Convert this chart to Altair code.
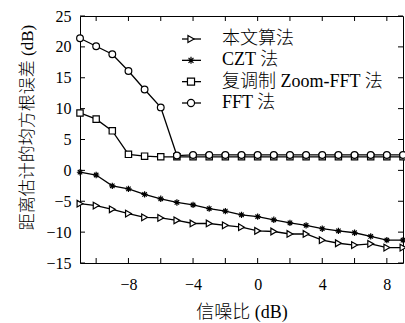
import altair as alt
import pandas as pd

snr = list(range(-11, 10))
methods = ["本文算法", "CZT 法", "复调制 Zoom-FFT 法", "FFT 法"]
proposed = [-5.4, -5.7, -6.3, -7.0, -7.6, -7.7, -8.1, -8.6, -8.6, -8.9, -9.2,
            -9.8, -9.9, -10.3, -10.3, -11.3, -11.8, -12.1, -11.9, -12.5, -12.5]
czt = [-0.3, -0.75, -2.5, -3.0, -3.9, -4.6, -5.2, -5.6, -6.2, -6.6, -7.2,
       -7.5, -8.0, -8.5, -8.9, -9.45, -9.8, -10.1, -10.7, -11.3, -11.3]
zoomfft = [9.3, 8.3, 6.4, 2.6, 2.3, 2.2, 2.2, 2.2, 2.2, 2.2, 2.2,
           2.2, 2.2, 2.2, 2.2, 2.2, 2.2, 2.2, 2.2, 2.2, 2.2]
fft = [21.4, 20.1, 18.8, 16.1, 13.1, 10.2, 2.4, 2.5, 2.5, 2.5, 2.5,
       2.5, 2.5, 2.5, 2.5, 2.5, 2.5, 2.5, 2.5, 2.5, 2.5]
series = [proposed, czt, zoomfft, fft]

x_labels = [-8, -4, 0, 4, 8]
x_ticks = [-10, -8, -6, -4, -2, 0, 2, 4, 6, 8]
y_ticks = [-15, -10, -5, 0, 5, 10, 15, 20, 25]

rows = []
for m, vals in zip(methods, series):
    for s, v in zip(snr, vals):
        rows.append({"snr": s, "method": m, "rmse": v})
df = pd.DataFrame(rows)
leg_df = pd.DataFrame({"method": methods})

W, H = 323, 247
FONT = "Liberation Serif, Noto Sans CJK SC"

xs = alt.Scale(domain=[-11, 9], nice=False, zero=False)
ys = alt.Scale(domain=[-15, 25], nice=False, zero=False)

AX = alt.Axis(values=x_labels, title="信噪比 (dB)", grid=False,
              domain=False, ticks=False, labelPadding=13,
              titlePadding=11, labelFontSize=16, titleFontSize=18,
              labelOverlap=False)
AY = alt.Axis(values=y_ticks, title="距离估计的均方根误差 (dB)", grid=False,
              domain=False, ticks=False, labelPadding=9,
              labelFontSize=16, titleFontSize=17, labelOverlap=False,
              titleX=-53, titleY=111, titleBaseline="middle",
              titleAlign="center", titleAngle=270)

marker_paths = [
    "triangle-right",
    "M-1,0L1,0M0,-1L0,1M-0.7,-0.7L0.7,0.7M-0.7,0.7L0.7,-0.7",
    "square",
    "circle",
]
marker_sizes = [45, 40, 40, 45]

base = alt.Chart(df)
XD = alt.X("snr:Q", scale=xs, axis=AX)
YD = alt.Y("rmse:Q", scale=ys, axis=AY)

lines = base.mark_line(color="black", strokeWidth=1.3).encode(
    x=XD, y=YD, detail="method:N")

point_layers = []
for m, shp, sz in zip(methods, marker_paths, marker_sizes):
    point_layers.append(
        base.transform_filter(alt.datum.method == m).mark_point(
            filled=False, stroke="black", fill="white", fillOpacity=1,
            strokeWidth=1.2, opacity=1, size=sz, shape=shp).encode(x=XD, y=YD)
    )

xt = pd.DataFrame({"t": x_ticks})
yt = pd.DataFrame({"t": y_ticks})
tick_style = dict(color="black", strokeWidth=1)
XT = alt.X("t:Q", scale=xs, axis=AX)
YT = alt.Y("t:Q", scale=ys, axis=AY)
xb = alt.Chart(xt).mark_rule(**tick_style).encode(x=XT, y=alt.value(H), y2=alt.value(H - 5))
xtop = alt.Chart(xt).mark_rule(**tick_style).encode(x=XT, y=alt.value(0), y2=alt.value(5))
yl = alt.Chart(yt).mark_rule(**tick_style).encode(y=YT, x=alt.value(0), x2=alt.value(5))
yr = alt.Chart(yt).mark_rule(**tick_style).encode(y=YT, x=alt.value(W), x2=alt.value(W - 5))

main = alt.layer(lines, xb, xtop, yl, yr, *point_layers)

# legend drawn from the method list through a point scale
LY = alt.Y("method:N", scale=alt.Scale(type="point", domain=methods, range=[23, 87], padding=0),
           axis=None)
leg = alt.Chart(leg_df)
leg_line = leg.mark_rule(color="black", strokeWidth=1.3).encode(
    y=LY, x=alt.value(102), x2=alt.value(121))
leg_pt = leg.mark_point(filled=False, stroke="black", fill="white", fillOpacity=1,
                        strokeWidth=1.2, opacity=1).encode(
    y=LY, x=alt.value(111),
    shape=alt.Shape("method:N", scale=alt.Scale(domain=methods, range=marker_paths), legend=None),
    size=alt.Size("method:N", scale=alt.Scale(domain=methods, range=[50, 50, 45, 55]), legend=None),
)
leg_txt = leg.mark_text(align="left", baseline="middle", font=FONT, fontSize=18,
                        fontWeight=300, color="black").encode(
    y=LY, x=alt.value(142), text="method:N")
legend = alt.layer(leg_line, leg_pt, leg_txt)

chart = alt.layer(main, legend).resolve_scale(y="independent").properties(
    width=W, height=H,
    autosize=alt.AutoSizeParams(type="none"),
    padding={"left": 80, "top": 16, "right": 2, "bottom": 60},
    background="white",
).configure_view(
    stroke="black", strokeWidth=1
).configure_axis(
    labelFont=FONT, titleFont=FONT, labelColor="black", titleColor="black",
    titleFontWeight=300, labelOverlap=False
)

chart.save("out.html", embed_options={"renderer": "svg", "actions": False})
